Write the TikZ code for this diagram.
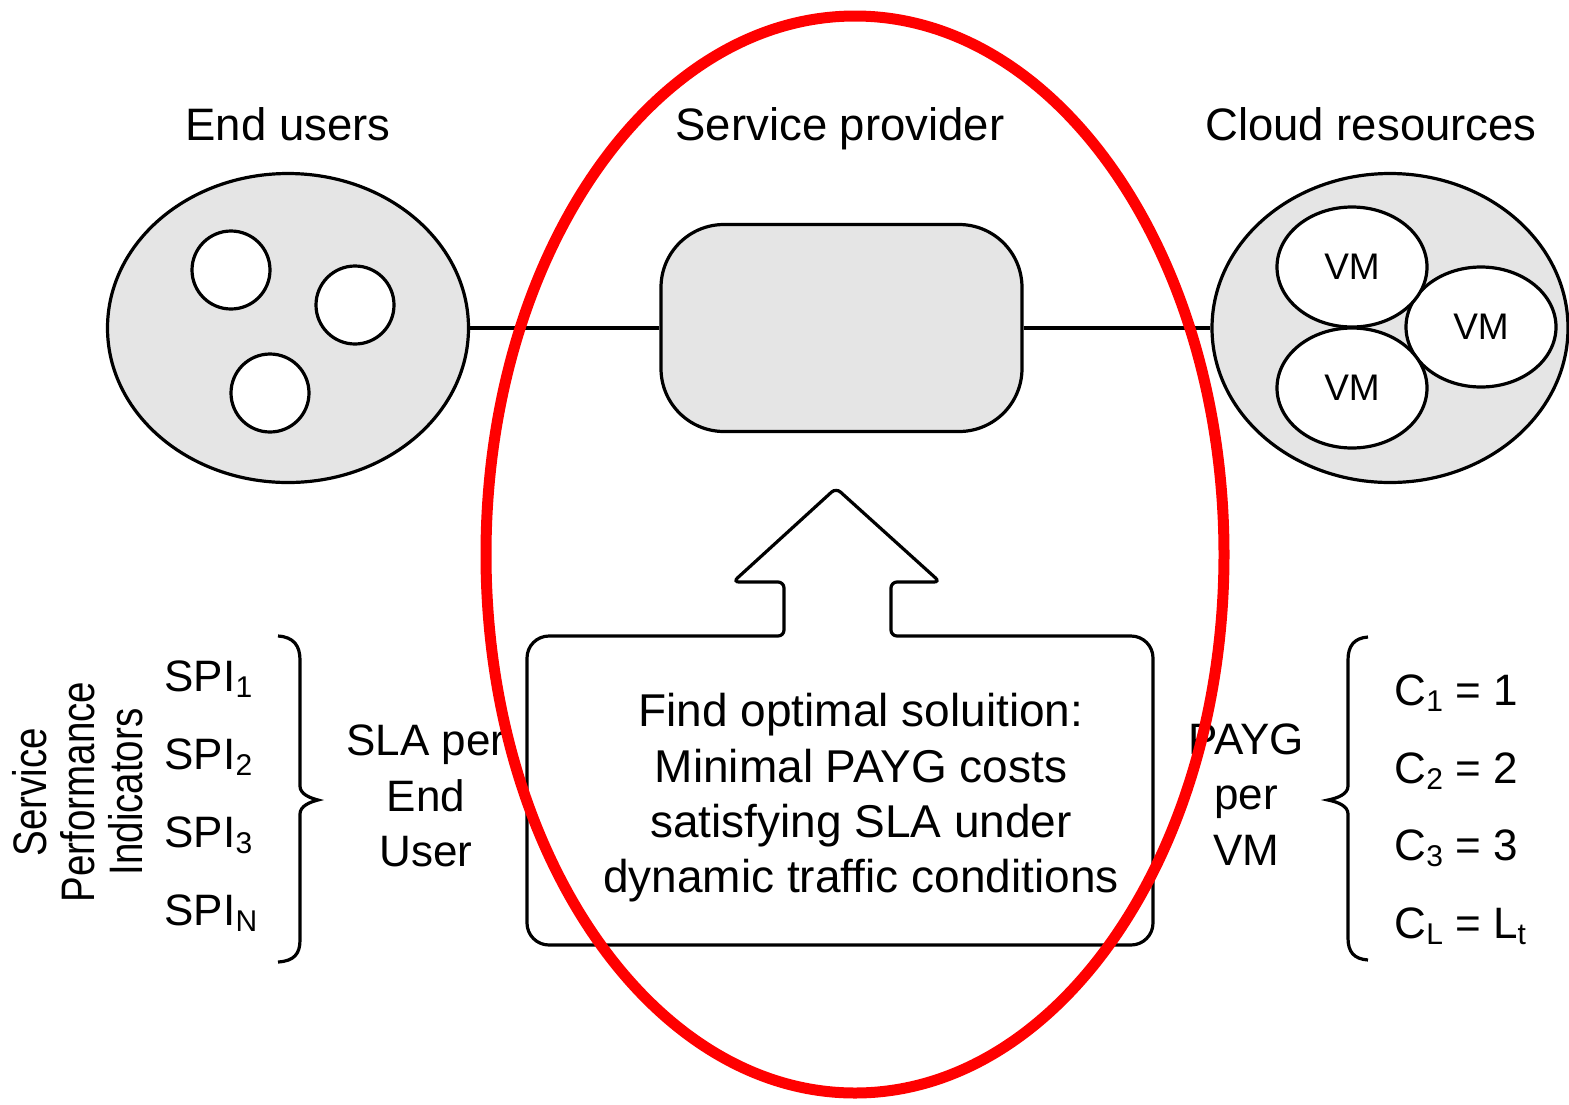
\documentclass[tikz,border=0pt]{standalone}
\usepackage{fontspec}
\setmainfont{Liberation Sans}
\usepackage{graphicx}
\usetikzlibrary{shapes.geometric}
\newcommand{\mysub}[1]{\raisebox{-6pt}{\fontsize{30}{30}\selectfont #1}}
\newcommand{\narrow}[1]{\scalebox{0.82}[1]{#1}}
\begin{document}
\begin{tikzpicture}[x=1pt,y=-1pt,line width=3.2pt,
  title/.style={font=\fontsize{45.5}{54}\selectfont, anchor=base, inner sep=0pt},
  lbl/.style={font=\fontsize{44}{55.3}\selectfont, align=center, inner sep=0pt},
  goaltext/.style={font=\fontsize{46}{55.3}\selectfont, align=center, inner sep=0pt},
  item/.style={font=\fontsize{44}{50}\selectfont, anchor=base west, inner sep=0pt},
  grp/.style={ellipse, draw, fill=gray!20, inner sep=0pt},
  user/.style={circle, draw, fill=white, minimum size=78pt, inner sep=0pt},
  vm/.style={ellipse, draw, fill=white, minimum width=150pt, minimum height=120pt, inner sep=0pt, font=\fontsize{37}{37}\selectfont},
  bracket/.style={line width=3.2pt},
  highlight/.style={ellipse, draw=red, line width=11pt, inner sep=0pt}]
\useasboundingbox (0,0) rectangle (1569,1104);

% titles
\node[title] (t1) at (288,140) {End users};
\node[title] (t2) at (840,140) {Service provider};
\node[title] (t3) at (1371,140) {Cloud resources};

% end users
\node[grp, minimum width=361pt, minimum height=309pt] (eu) at (288,328) {};
\node[user] (u1) at (231,270) {};
\node[user] (u2) at (355,305) {};
\node[user] (u3) at (270,393) {};

% service provider
\node[draw, fill=gray!20, rounded corners=63pt, minimum width=361pt, minimum height=207pt, inner sep=0pt] (sp) at (841.5,328) {};

% cloud resources
\node[grp, minimum width=356pt, minimum height=309pt] (cr) at (1390,328) {};
\node[vm] (vm2) at (1481,327) {VM};
\node[vm] (vm1) at (1352,267) {VM};
\node[vm] (vm3) at (1352,388) {VM};

% connectors
\draw (eu) -- (sp);
\draw (sp) -- (cr);

% arrow + box
\draw[fill=white] (650,636) [rounded corners=6pt] -- (784,636) -- (784,582) -- (733,582) -- (836,488) -- (940,582) -- (891,582) -- (891,636) [rounded corners=22pt] -- (1153,636) -- (1153,945) -- (527,945) -- (527,636) -- cycle;
\node[goaltext] (goal) at (861,798) {Find optimal soluition:\\Minimal PAYG costs\\satisfying SLA under\\dynamic traffic conditions};

% left side
\node[rotate=90, align=center, font=\fontsize{47}{48}\selectfont, inner sep=0pt] (spi) at (77.5,792) {\narrow{Service}\\\narrow{Performance}\\\narrow{Indicators}};
\node[item] (s1) at (163,691) {SPI\mysub{1}};
\node[item] (s2) at (163,769) {SPI\mysub{2}};
\node[item] (s3) at (163,847) {SPI\mysub{3}};
\node[item] (s4) at (163,925) {SPI\mysub{N}};
\draw[bracket] (278,636) .. controls (294,637) and (300,646) .. (300,660) -- (300,786) .. controls (300,794) and (310,798) .. (318,800) .. controls (310,802) and (300,806) .. (300,814) -- (300,940) .. controls (300,954) and (294,961) .. (278,962);
\node[lbl] (sla) at (426,796) {SLA per\\End\\User};

% right side
\node[lbl] (payg) at (1246,794.5) {PAYG\\per\\VM};
\draw[bracket] (1368,637) .. controls (1354,638) and (1348,646) .. (1348,660) -- (1348,786) .. controls (1348,794) and (1338,798) .. (1328,800) .. controls (1338,802) and (1348,806) .. (1348,814) -- (1348,938) .. controls (1348,952) and (1354,959) .. (1368,960);
\node[item] (c1) at (1393,705) {C\mysub{1} = 1};
\node[item] (c2) at (1393,783) {C\mysub{2} = 2};
\node[item] (c3) at (1393,860) {C\mysub{3} = 3};
\node[item] (c4) at (1393,938) {C\mysub{L} = L\mysub{t}};

% red highlight
\node[highlight, minimum width=738pt, minimum height=1077pt] (hl) at (855,554.5) {};
\end{tikzpicture}
\end{document}
